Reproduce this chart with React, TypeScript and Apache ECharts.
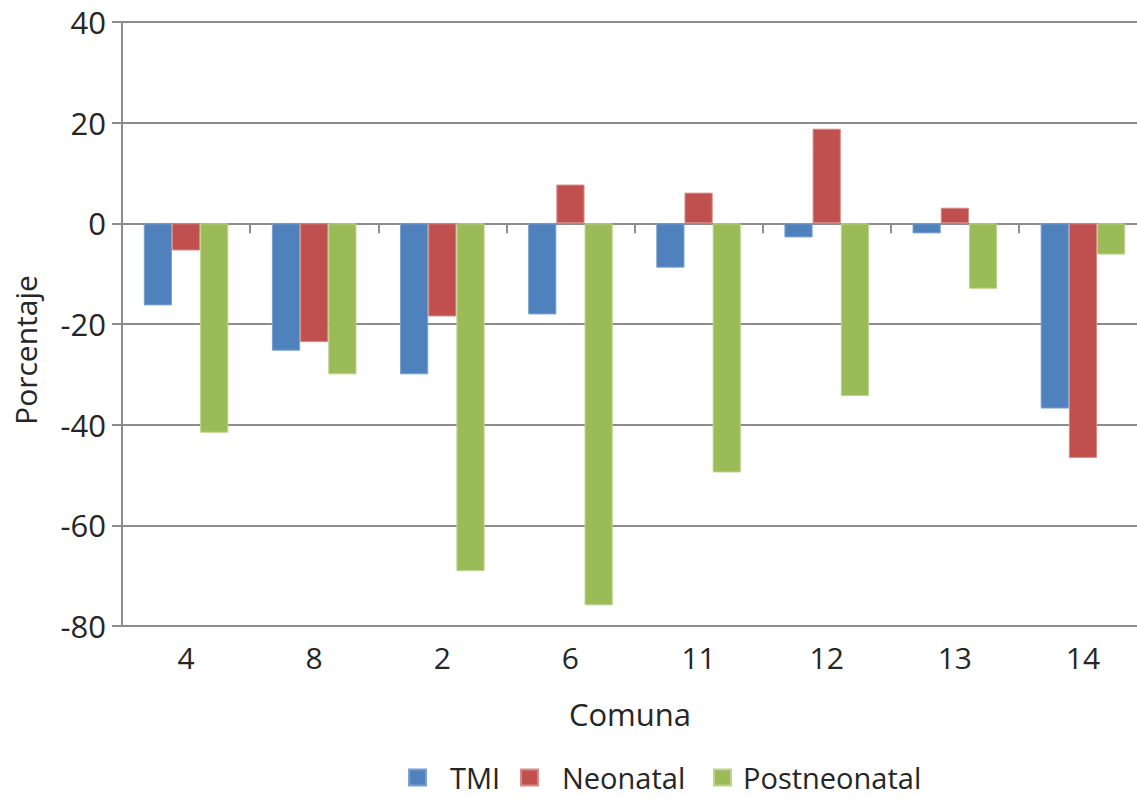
import React, { useEffect, useRef } from "react";
import * as echarts from "echarts";

const categories = ["4", "8", "2", "6", "11", "12", "13", "14"];
const tmi = [-16.3, -25.3, -30, -18.1, -8.8, -2.8, -2, -36.8];
const neonatal = [-5.4, -23.6, -18.5, 7.7, 6.1, 18.8, 3.1, -46.6];
const postneonatal = [-41.6, -30, -69.1, -75.9, -49.5, -34.3, -13, -6.2];
const yTicks = { min: -80, max: 40, interval: 20 };

const FONT = "'Open Sans', Lato, sans-serif";
const GREY = "#8c8c8c";
const TXT = "#262626";

export default function App() {
  const ref = useRef<HTMLDivElement>(null);
  useEffect(() => {
    const chart = echarts.init(ref.current!, null, { renderer: "svg" });
    const barStyle = (c: string, b: string) => ({ color: c, borderColor: b, borderWidth: 1 });
    const legendItem = (name: string, left: number, pad: number) => ({
      data: [name],
      left,
      top: 763,
      padding: 0,
      itemWidth: 17,
      itemHeight: 16,
      icon: "rect",
      textStyle: { fontFamily: FONT, fontSize: 29, lineHeight: 28, color: TXT, padding: [0, 0, 0, pad] },
    });
    chart.setOption({
      animation: false,
      grid: { left: 122, top: 22, width: 1025, bottom: 172, containLabel: false },
      legend: [
        legendItem("TMI", 408, 19),
        legendItem("Neonatal", 520, 19),
        legendItem("Postneonatal", 713, 7),
      ],
      xAxis: [
        {
          type: "category",
          data: categories,
          position: "bottom",
          axisLine: { show: false, onZero: false },
          axisTick: { show: false },
          axisLabel: { fontFamily: FONT, fontSize: 30, color: TXT, margin: 16 },
        },
        {
          type: "category",
          data: categories,
          position: "bottom",
          axisLine: { show: true, onZero: true, lineStyle: { color: GREY, width: 2 } },
          axisTick: { show: true, length: 10, lineStyle: { color: GREY, width: 2 } },
          axisLabel: { show: false },
        },
      ],
      yAxis: {
        type: "value",
        min: yTicks.min,
        max: yTicks.max,
        interval: yTicks.interval,
        axisLine: { show: true, lineStyle: { color: GREY, width: 2 } },
        axisTick: { show: true, length: 10, lineStyle: { color: GREY, width: 2 } },
        splitLine: { show: true, lineStyle: { color: GREY, width: 2 } },
        axisLabel: { fontFamily: FONT, fontSize: 31, color: TXT, margin: 16 },
      },
      graphic: [
        {
          type: "text",
          x: 40,
          y: 350,
          rotation: Math.PI / 2,
          style: {
            text: "Porcentaje",
            fontFamily: FONT,
            fontSize: 30,
            fill: TXT,
            align: "center",
            verticalAlign: "bottom",
          },
        },
        {
          type: "text",
          x: 630,
          y: 714,
          style: {
            text: "Comuna",
            fontFamily: FONT,
            fontSize: 31,
            fill: TXT,
            align: "center",
            verticalAlign: "middle",
          },
        },
      ],
      series: [
        {
          name: "TMI",
          type: "bar",
          data: tmi,
          barGap: "0%",
          barCategoryGap: "34%",
          itemStyle: barStyle("#4F81BD", "#7aa0cf"),
        },
        {
          name: "Neonatal",
          type: "bar",
          data: neonatal,
          itemStyle: barStyle("#C0504D", "#d88a88"),
        },
        {
          name: "Postneonatal",
          type: "bar",
          data: postneonatal,
          itemStyle: barStyle("#9BBB59", "#bcd48e"),
        },
      ],
    });
    return () => chart.dispose();
  }, []);
  return (
    <div style={{ position: "absolute", left: 0, top: 0, width: 1137, height: 798, overflow: "hidden" }}>
      <div ref={ref} style={{ width: 1160, height: 798 }} />
    </div>
  );
}
